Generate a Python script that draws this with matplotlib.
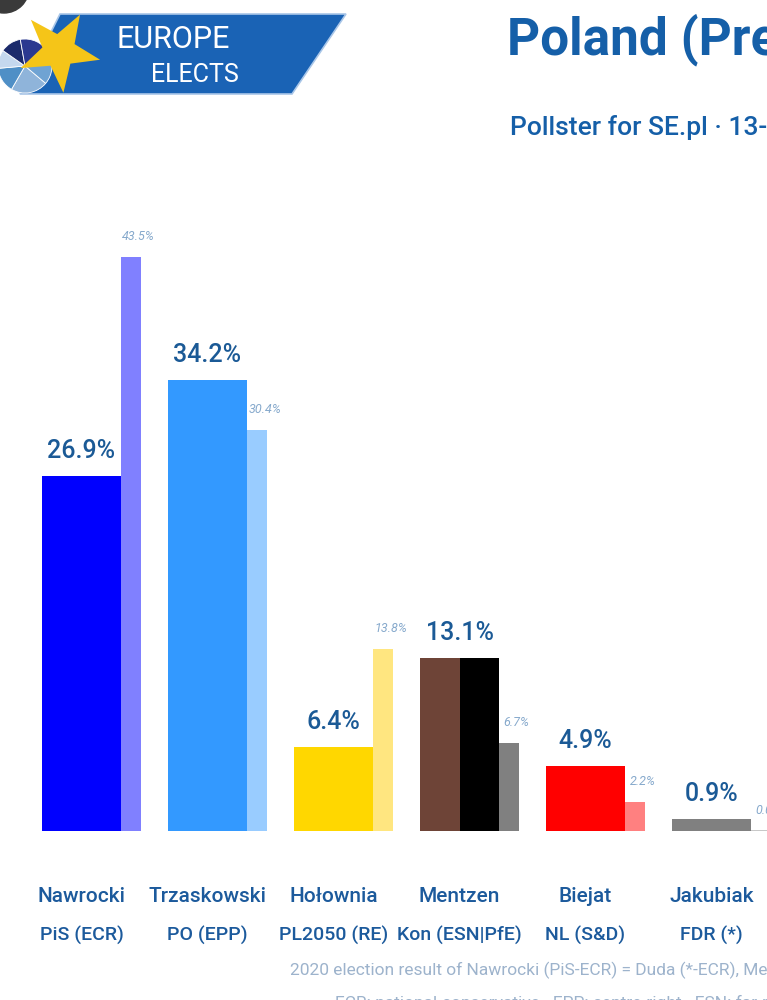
import matplotlib
matplotlib.use("Agg")
import matplotlib.pyplot as plt
from matplotlib.patches import Polygon, Circle, Wedge
import matplotlib.transforms as mtransforms
import numpy as np

# ---- data ----
candidates = ["Nawrocki", "Trzaskowski", "Hołownia", "Mentzen", "Biejat", "Jakubiak"]
parties = ["PiS (ECR)", "PO (EPP)", "PL2050 (RE)", "Kon (ESN|PfE)", "NL (S&D)", "FDR (*)"]
poll = [26.9, 34.2, 6.4, 13.1, 4.9, 0.9]
prev = [43.5, 30.4, 13.8, 6.7, 2.2, 0.0]

main_colors = ["#0000FF", "#3399FF", "#FFD700", None, "#FF0000", "#808080"]
prev_colors = ["#8080FF", "#99CCFF", "#FFE680", "#808080", "#FF8080", "#C8C8C8"]
mentzen_colors = ["#6E4437", "#000000"]

title = "Poland (Presidential election)"
subtitle = "Pollster for SE.pl · 13-14 March 2025"
foot1 = "2020 election result of Nawrocki (PiS-ECR) = Duda (*-ECR), Mentzen (Kon-ESN|PfE) = Bosak (Kon-ESN|PfE)"
foot2 = "ECR: national-conservative · EPP: centre-right · ESN: far-right · PfE: patriotic right"

FONT = "Roboto"
plt.rcParams["font.family"] = [FONT, "DejaVu Sans"]

W_PX, H_PX = 767, 1000
fig = plt.figure(figsize=(W_PX / 100, H_PX / 100), dpi=100)
fig.patch.set_facecolor("white")

# ---- decoration axes in pixel coordinates ----
deco = fig.add_axes([0, 0, 1, 1], zorder=0)
deco.set_xlim(0, W_PX)
deco.set_ylim(H_PX, 0)
deco.axis("off")

# corner artifact
deco.add_patch(Circle((4, -12), 25, color="#3a3a3a", zorder=1))

# banner
deco.add_patch(Polygon([(60, 14), (346, 14), (292, 94), (20, 94)], closed=True,
                       facecolor="#1A63B5", edgecolor="#A9C6E8", lw=1.2, zorder=1))
# pie circle
pie_c = (25, 66)
pie_cols = ["#8FB4DA", "#4F8FC6", "#C5D8EE", "#1B2A6B", "#2B3990", "#6FA3D3"]
angs = [40, 120, 175, 215, 260, 330, 400]
for k in range(6):
    deco.add_patch(Wedge(pie_c, 27, angs[k], angs[k + 1], facecolor=pie_cols[k],
                         edgecolor="white", lw=0.6, zorder=2))
# star
sc = (59, 51)
R, r = 42, 17
pts = []
for k in range(10):
    a = np.deg2rad(60 + k * 36)
    rad = R if k % 2 == 0 else r
    pts.append((sc[0] + rad * np.cos(a), sc[1] - rad * np.sin(a)))
deco.add_patch(Polygon(pts, closed=True, facecolor="#F5C518", edgecolor="none", zorder=3))

deco.text(173, 39, "EUROPE", color="white", fontsize=22, ha="center", va="center",
          family=[FONT, "DejaVu Sans"], zorder=4)
deco.text(195, 75, "ELECTS", color="white", fontsize=18, ha="center", va="center",
          family=[FONT, "DejaVu Sans"], zorder=4)

# title, subtitle
deco.text(507, 40, title, color="#155FA8", fontsize=37, fontweight="bold",
          ha="left", va="center", zorder=4)
deco.text(510, 128, subtitle, color="#155FA8", fontsize=19, fontweight="medium",
          ha="left", va="center", zorder=4)

# footnotes
deco.text(290, 970, foot1, color="#9DB3CC", fontsize=12.5, ha="left", va="center", zorder=4)
deco.text(335, 1003, foot2, color="#9DB3CC", fontsize=12.5, ha="left", va="center", zorder=4)

# ---- main chart axes ----
PX_PER_UNIT = 126.0
PX_PER_PCT = 13.2
base_px = 831
x0 = -81.5 / PX_PER_UNIT
x1 = (W_PX - 81.5) / PX_PER_UNIT
y0 = -(H_PX - base_px) / PX_PER_PCT
y1 = base_px / PX_PER_PCT

ax = fig.add_axes([0, 0, 1, 1], zorder=2)
ax.set_xlim(x0, x1)
ax.set_ylim(y0, y1)
ax.axis("off")
ax.patch.set_alpha(0)

Wm = 79 / PX_PER_UNIT
Wp = 20 / PX_PER_UNIT
xs = np.arange(len(candidates))

for i in xs:
    if main_colors[i] is None:
        ax.bar(i - Wm / 4, poll[i], width=Wm / 2, color=mentzen_colors[0], lw=0)
        ax.bar(i + Wm / 4, poll[i], width=Wm / 2, color=mentzen_colors[1], lw=0)
    else:
        ax.bar(i, poll[i], width=Wm, color=main_colors[i], lw=0)
    px = i + Wm / 2 + Wp / 2
    ax.bar(px, max(prev[i], 0.08), width=Wp, color=prev_colors[i], lw=0)
    ax.text(i, poll[i] + 13 / PX_PER_PCT, f"{poll[i]:.1f}%", ha="center", va="bottom",
            color="#1B5A96", fontsize=18, fontweight="medium")
    ax.text(px + 0.06, prev[i] + 14 / PX_PER_PCT, f"{prev[i]:.1f}%", ha="center",
            va="bottom", color="#86A9CC", fontsize=9, style="italic")

trans = mtransforms.blended_transform_factory(ax.transData, fig.transFigure)
for i in xs:
    ax.text(i, 1 - 897 / H_PX, candidates[i], transform=trans, ha="center", va="center",
            color="#1C5A9C", fontsize=15, fontweight="medium")
    ax.text(i, 1 - 935 / H_PX, parties[i], transform=trans, ha="center", va="center",
            color="#1C5A9C", fontsize=14, fontweight="medium")

fig.savefig("out.png", dpi=100)
